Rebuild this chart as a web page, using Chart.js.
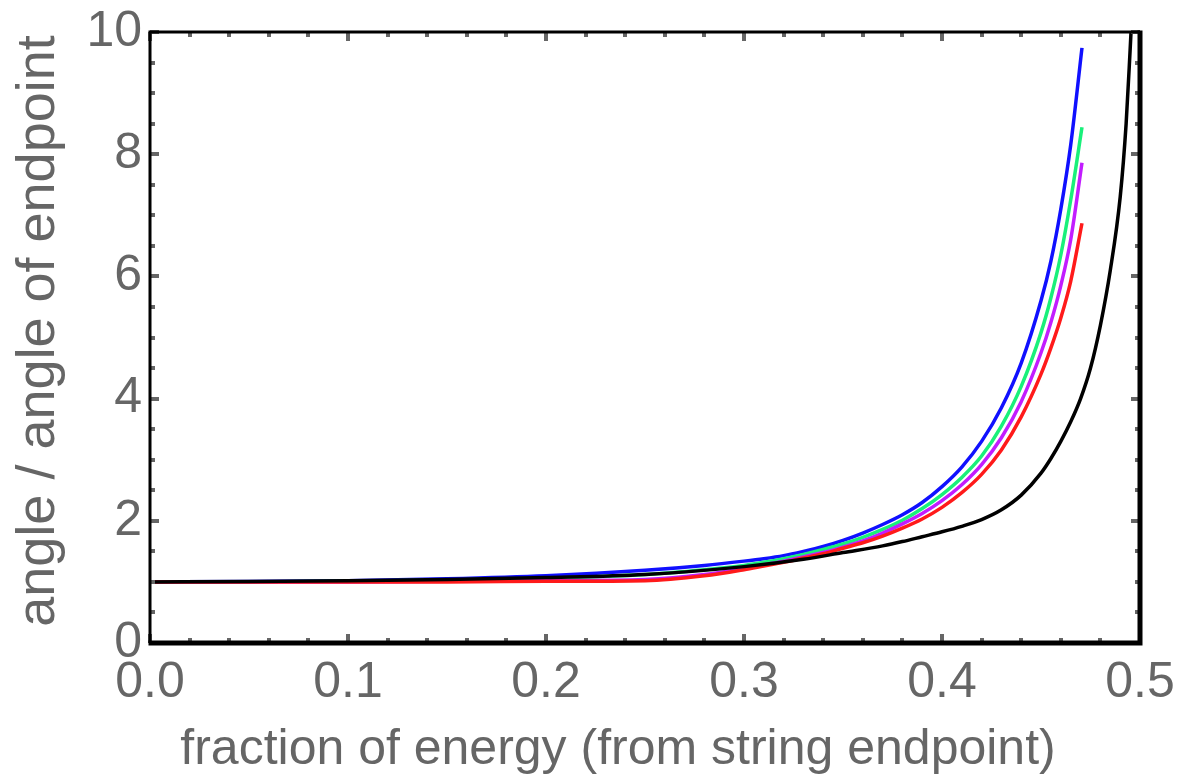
<!DOCTYPE html>
<html>
<head>
<meta charset="utf-8">
<script src="https://cdn.jsdelivr.net/npm/chart.js@4/dist/chart.umd.min.js"></script>
<style>
  body { margin: 0; background: #fff; }
  #wrap { width: 1179px; height: 783px; }
</style>
</head>
<body>
<div id="wrap"><canvas id="angle-chart" width="1179" height="783"></canvas></div>
<script>
// values
var xTitle = 'fraction of energy (from string endpoint)',
    yTitle = 'angle / angle of endpoint';

var blackX = [0, 0.05, 0.1, 0.15, 0.2, 0.25, 0.3, 0.33, 0.35, 0.37, 0.38, 0.39, 0.40, 0.41, 0.42, 0.43, 0.44, 0.45, 0.455, 0.46, 0.465, 0.47, 0.475, 0.48, 0.485, 0.49, 0.493, 0.495, 0.497];
var blackY = [1.0, 1.005, 1.02, 1.04, 1.07, 1.12, 1.25, 1.37, 1.48, 1.59, 1.66, 1.74, 1.82, 1.91, 2.02, 2.18, 2.42, 2.78, 3.02, 3.3, 3.62, 4.0, 4.5, 5.2, 6.1, 7.3, 8.5, 9.7, 11.0];

var fracX    = [0, 0.05, 0.1, 0.15, 0.2, 0.25, 0.28, 0.30, 0.31, 0.32, 0.33, 0.34, 0.35, 0.36, 0.37, 0.38, 0.39, 0.40, 0.41, 0.42, 0.43, 0.44, 0.45, 0.455, 0.46, 0.465, 0.4707];
var redY     = [1.0, 1.0, 1.0, 1.0, 1.01, 1.02, 1.1, 1.2, 1.26, 1.32, 1.39, 1.46, 1.55, 1.64, 1.75, 1.88, 2.03, 2.22, 2.46, 2.76, 3.16, 3.7, 4.4, 4.83, 5.32, 5.92, 6.87];
var magentaY = [1.0, 1.0, 1.0, 1.01, 1.02, 1.04, 1.12, 1.22, 1.28, 1.34, 1.41, 1.48, 1.57, 1.67, 1.8, 1.95, 2.12, 2.33, 2.59, 2.92, 3.36, 3.95, 4.75, 5.25, 5.85, 6.6, 7.86];
var greenY   = [1.0, 1.0, 1.01, 1.03, 1.06, 1.12, 1.2, 1.27, 1.32, 1.38, 1.45, 1.53, 1.62, 1.73, 1.86, 2.01, 2.2, 2.43, 2.71, 3.06, 3.55, 4.2, 5.08, 5.65, 6.35, 7.25, 8.44];
var blueY    = [1.0, 1.005, 1.02, 1.05, 1.1, 1.19, 1.27, 1.34, 1.38, 1.43, 1.5, 1.58, 1.68, 1.8, 1.94, 2.1, 2.3, 2.56, 2.88, 3.3, 3.85, 4.58, 5.6, 6.25, 7.1, 8.15, 9.74];

function pairs(xs, ys) {
	return xs.map(function(x, i) { return { x: x, y: ys[i] }; });
}

function line(xs, ys, color) {
	return {
		data: pairs(xs, ys),
		borderColor: color,
		borderWidth: 3.5,
		pointRadius: 0,
		cubicInterpolationMode: 'monotone',
		fill: false
	};
}

var gray = '#666666',
    font = '"Liberation Sans", Arial, Helvetica, sans-serif';

// frame, mathematica style ticks and the axis titles
var framePlugin = {
	id: 'frame',
	afterDraw: function(chart) {
		var c = chart.ctx, a = chart.chartArea,
				xs = chart.scales.x, ys = chart.scales.y, i, p;

		c.save();
		c.fillStyle = gray;
		for (i = 0; i <= 25; i++) {
			p = Math.round(xs.getPixelForValue(i * 0.02));
			var lx = (i % 5 === 0) ? 9 : 5;
			c.fillRect(p - 2, a.bottom - lx, 4, lx);
			c.fillRect(p - 2, a.top, 4, lx);
		}
		for (i = 0; i <= 20; i++) {
			p = Math.round(ys.getPixelForValue(i * 0.5));
			var ly = (i % 4 === 0) ? 9 : 5;
			c.fillRect(a.left, p - 2, ly, 4);
			c.fillRect(a.right - ly, p - 2, ly, 4);
		}

		c.strokeStyle = '#000';
		c.lineWidth = 3;
		c.beginPath();
		c.moveTo(a.left, a.bottom);
		c.lineTo(a.left, a.top);
		c.lineTo(a.right, a.top);
		c.stroke();
		c.lineWidth = 5;
		c.beginPath();
		c.moveTo(a.left - 1.5, a.bottom);
		c.lineTo(a.right, a.bottom);
		c.lineTo(a.right, a.top - 1.5);
		c.stroke();

		c.fillStyle = gray;
		c.font = '50px ' + font;
		c.textAlign = 'center';
		c.textBaseline = 'alphabetic';
		c.fillText(xTitle, 618, 764);

		c.translate(54, 331);
		c.rotate(-Math.PI / 2);
		c.font = '54px ' + font;
		c.fillText(yTitle, 0, 0);
		c.restore();
	}
};

var ctx = document.getElementById('angle-chart').getContext('2d'),
		angleChart = new Chart(ctx, {
			type: 'line',
			data: {
				datasets: [
					line(blackX, blackY, '#000000'),
					line(fracX, redY, '#ff1a1a'),
					line(fracX, magentaY, '#c21cff'),
					line(fracX, greenY, '#19f07a'),
					line(fracX, blueY, '#1010ff')
				]
			},
			options: {
				responsive: false,
				animation: false,
				layout: { padding: { top: 32, right: 39, left: 0, bottom: 0 } },
				plugins: { legend: { display: false }, tooltip: { enabled: false } },
				scales: {
					x: {
						type: 'linear',
						min: 0,
						max: 0.5,
						afterFit: function(s) {
							s.height = 140;
							s.paddingLeft = 0;
							s.paddingRight = 0;
						},
						grid: { display: false, drawTicks: false },
						border: { display: false },
						ticks: {
							stepSize: 0.1,
							padding: 10,
							color: gray,
							font: { family: font, size: 50 },
							maxRotation: 0,
							callback: function(v) { return v.toFixed(1); }
						}
					},
					y: {
						type: 'linear',
						min: 0,
						max: 10,
						afterFit: function(s) {
							s.width = 150;
							s.paddingTop = 0;
							s.paddingBottom = 0;
						},
						grid: { display: false, drawTicks: false },
						border: { display: false },
						ticks: {
							stepSize: 2,
							padding: 8,
							color: gray,
							font: { family: font, size: 50 }
						}
					}
				}
			},
			plugins: [framePlugin]
		});
</script>
</body>
</html>
